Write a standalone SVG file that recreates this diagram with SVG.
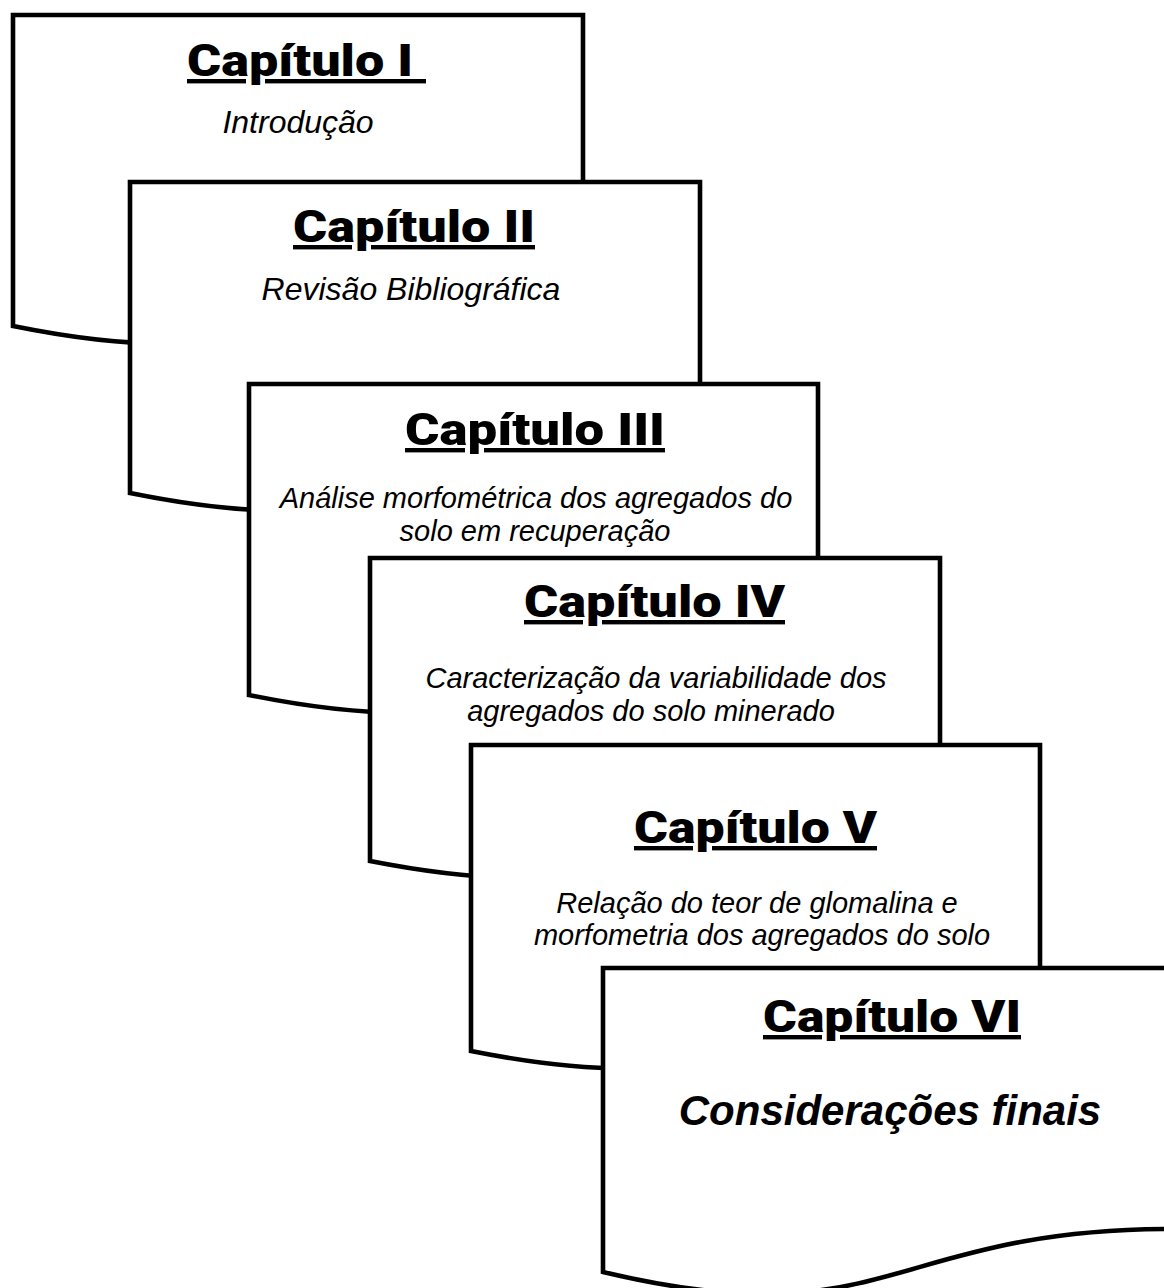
<svg xmlns="http://www.w3.org/2000/svg" width="1164" height="1288" viewBox="0 0 1164 1288">
<style>
.doc{fill:#fff;stroke:#000;stroke-width:4.6;stroke-linejoin:miter}
.t{font-family:"Roboto","Lato","Inter","Liberation Sans",sans-serif;font-weight:900;font-size:44px;text-decoration:underline;text-decoration-thickness:4px;white-space:pre}
.s{font-family:"Liberation Sans",Arial,sans-serif;font-style:italic;font-size:29px;text-anchor:middle}
.s2{font-size:32px}
.b{font-family:"Liberation Sans",Arial,sans-serif;font-style:italic;font-weight:bold;font-size:42px;text-anchor:middle}
</style>
<g id="connectors"/>
<g id="cap1">
<path class="doc" d="M13,15 H583 V282 C298,282 298,384 13,326 Z"/>
<text class="t" x="187" y="76" textLength="239" lengthAdjust="spacingAndGlyphs" xml:space="preserve">Capítulo I </text>
<text class="s s2" x="298" y="133">Introdução</text>
</g>
<g id="cap2">
<path class="doc" d="M130,182 H700 V449 C415,449 415,551 130,493 Z"/>
<text class="t" x="293" y="242" textLength="242" lengthAdjust="spacingAndGlyphs">Capítulo II</text>
<text class="s s2" x="411" y="300">Revisão Bibliográfica</text>
</g>
<g id="cap3">
<path class="doc" d="M249,384 H818 V651 C533.5,651 533.5,753 249,695 Z"/>
<text class="t" x="405" y="445" textLength="260" lengthAdjust="spacingAndGlyphs">Capítulo III</text>
<text class="s" x="536" y="508">Análise morfométrica dos agregados do</text>
<text class="s" x="535" y="541">solo em recuperação</text>
</g>
<g id="cap4">
<path class="doc" d="M370,558 H940 V818 C655,818 655,917 370,861 Z"/>
<text class="t" x="524" y="617" textLength="261" lengthAdjust="spacingAndGlyphs">Capítulo IV</text>
<text class="s" x="656" y="688">Caracterização da variabilidade dos</text>
<text class="s" x="651" y="721">agregados do solo minerado</text>
</g>
<g id="cap5">
<path class="doc" d="M471,745 H1040 V1008 C755.5,1008 755.5,1108 471,1051 Z"/>
<text class="t" x="634" y="843" textLength="243" lengthAdjust="spacingAndGlyphs">Capítulo V</text>
<text class="s" x="757" y="913">Relação do teor de glomalina e</text>
<text class="s" x="762" y="945">morfometria dos agregados do solo</text>
</g>
<g id="cap6">
<path class="doc" d="M603,968 H1173 V1229 C888,1229 888,1340 603,1272 Z"/>
<text class="t" x="763" y="1032" textLength="258" lengthAdjust="spacingAndGlyphs">Capítulo VI</text>
<text class="b" x="890" y="1125">Considerações finais</text>
</g>
</svg>
